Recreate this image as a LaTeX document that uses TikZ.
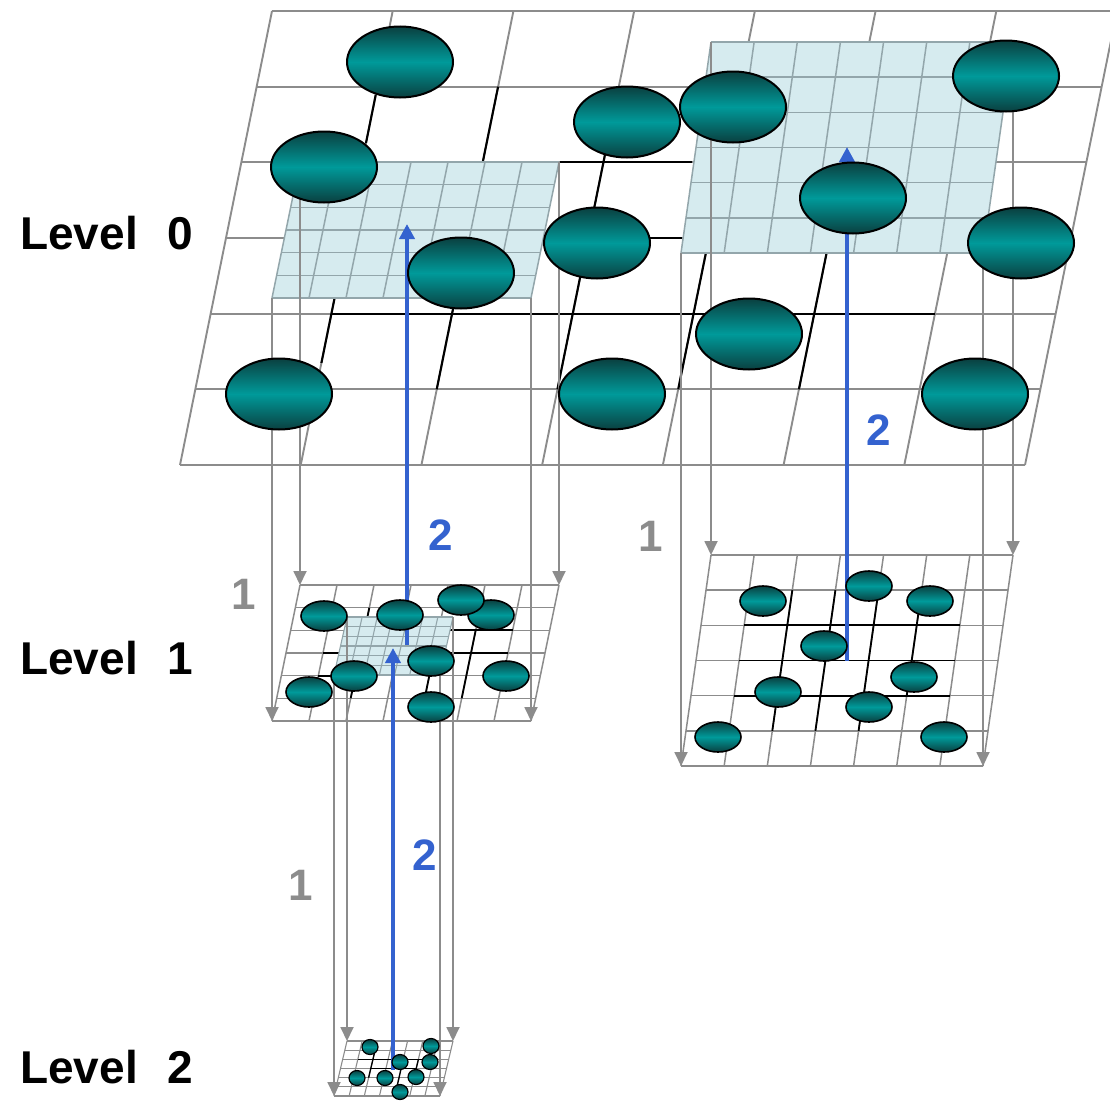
\documentclass[tikz,border=0pt]{standalone}
\usepackage{fontspec}
\setmainfont{Liberation Sans}
\usetikzlibrary{shapes.geometric,arrows.meta}

\definecolor{gridgray}{HTML}{8C8C8C}
\definecolor{finegray}{HTML}{93A6AB}
\definecolor{regionfill}{HTML}{D6EBEF}
\definecolor{tealmid}{HTML}{009A9A}
\definecolor{tealdark}{HTML}{0A4040}
\definecolor{linkblue}{HTML}{3462CF}
\definecolor{labelgray}{HTML}{8C8C8C}

% skewed grid: top-left x, top-left y, width, height, bottom shift, columns, rows, line style
\newcommand{\skewgrid}[8]{%
  \foreach \gi in {0,...,#7}{\draw[#8] ({#1+(#5)*\gi/#7},{#2+(#4)*\gi/#7}) -- ++(#3,0);}
  \foreach \gj in {0,...,#6}{\draw[#8] ({#1+(#3)*\gj/#6},#2) -- ++(#5,#4);}
}
% filled parallelogram: top-left x, top-left y, width, height, bottom shift
\newcommand{\skewpatch}[5]{%
  \fill[regionfill] (#1,#2) -- ++(#3,0) -- ++(#5,#4) -- ++(-#3,0) -- cycle;
}

\begin{document}
\begin{tikzpicture}[x=1pt,y=-1pt,
  gridln/.style={draw=gridgray, line width=1.9pt},
  gridsm/.style={draw=gridgray, line width=1.5pt},
  gridxs/.style={draw=gridgray, line width=1.1pt},
  fineln/.style={draw=finegray, line width=1.5pt},
  finesm/.style={draw=finegray, line width=1.1pt},
  treeln/.style={draw=black, line width=2.1pt},
  treesm/.style={draw=black, line width=1.8pt},
  treexs/.style={draw=black, line width=1.3pt},
  drop/.style={draw=gridgray, line width=1.8pt, -{Triangle[width=13pt,length=14pt]}},
  lift/.style={draw=linkblue, line width=4pt, -{Triangle[width=15pt,length=15pt]}},
  ballL/.style={ellipse, draw=black, line width=2pt, inner sep=0pt,
    minimum width=106pt, minimum height=71pt,
    top color=tealdark, bottom color=tealdark, middle color=tealmid},
  ballM/.style={ballL, line width=1.6pt, minimum width=46pt, minimum height=30pt},
  ballS/.style={ballL, line width=1.2pt, minimum width=16pt, minimum height=15pt},
  lvl/.style={font=\fontsize{46}{55}\selectfont\bfseries, anchor=base west, inner sep=0pt},
  stepnum/.style={font=\fontsize{44}{52}\selectfont\bfseries, inner sep=0pt},
  countA/.style={stepnum, text=labelgray},
  countB/.style={stepnum, text=linkblue}]

\useasboundingbox (0,0) rectangle (1110,1100);
\clip (0,0) rectangle (1110,1100);

% ---------- level 0 ----------
\skewgrid{272}{11}{845}{454}{-92}{7}{6}{gridln}
\draw[treeln] (375.7,95) -- (366.0,143);
\draw[treeln] (334.6,298) -- (321.4,363);
\draw[treeln] (498.1,86.7) -- (482.7,162.3);
\draw[treeln] (453.2,308) -- (436.7,389.3);
\draw[treeln] (604.9,155) -- (557.4,389.3);
\draw[treeln] (705.9,253) -- (678.2,389.3);
\draw[treeln] (826.6,253) -- (798.9,389.3);
\draw[treeln] (560,162.3) -- (692,162.3);
\draw[treeln] (650,238) -- (682,238);
\draw[treeln] (331.4,313.7) -- (935,313.7);

\skewpatch{300}{162}{259}{136}{-28}
\skewgrid{300}{162}{259}{136}{-28}{7}{6}{fineln}
\skewpatch{711}{42}{302}{211}{-30}
\skewgrid{711}{42}{302}{211}{-30}{7}{6}{fineln}

% ---------- level 1, left ----------
\skewgrid{300}{585}{259}{136}{-28}{7}{6}{gridsm}
\draw[treesm] (323,653) -- (508,653);
\draw[treesm] (364.7,630.3) -- (512.7,630.3);
\draw[treesm] (318.3,675.7) -- (355.3,675.7);
\draw[treesm] (475.7,630.3) -- (461.7,698.3);
\draw[treesm] (429.3,675.7) -- (424.7,698.3);
\draw[treesm] (369.3,607.7) -- (364.7,630.3);
\draw[treesm] (355.3,675.7) -- (350.7,698.3);
\skewpatch{347}{617}{106}{58}{-13}
\skewgrid{347}{617}{106}{58}{-13}{7}{6}{finesm}

% ---------- level 1, right ----------
\skewgrid{711}{555}{302}{211}{-30}{7}{6}{gridsm}
\draw[treesm] (744.1,625.3) -- (959.9,625.3);
\draw[treesm] (739.1,660.5) -- (954.9,660.5);
\draw[treesm] (734.1,695.7) -- (949.9,695.7);
\draw[treesm] (792.3,590.2) -- (772.3,730.8);
\draw[treesm] (835.4,590.2) -- (815.4,730.8);
\draw[treesm] (878.6,590.2) -- (858.6,730.8);
\draw[treesm] (921.7,590.2) -- (906.7,695.7);

% ---------- level 2 ----------
\skewgrid{347}{1041}{106}{55}{-13}{7}{6}{gridxs}
\draw[treexs] (357.8,1059.3) -- (433.5,1059.3);
\draw[treexs] (370.8,1068.5) -- (416.2,1068.5);
\draw[treexs] (375.1,1050.2) -- (368.6,1077.7);
\draw[treexs] (403.2,1059.3) -- (394.9,1096);
\draw[treexs] (418.4,1059.3) -- (414.0,1077.7);

% ---------- corner points of the patches and grids ----------
\coordinate (pa-tl) at (300,162);  \coordinate (pa-tr) at (559,162);
\coordinate (pa-bl) at (272,298);  \coordinate (pa-br) at (531,298);
\coordinate (ga-tl) at (300,585);  \coordinate (ga-tr) at (559,585);
\coordinate (ga-bl) at (272,721);  \coordinate (ga-br) at (531,721);
\coordinate (pb-tl) at (711,42);   \coordinate (pb-tr) at (1013,42);
\coordinate (pb-bl) at (681,253);  \coordinate (pb-br) at (983,253);
\coordinate (gb-tl) at (711,555);  \coordinate (gb-tr) at (1013,555);
\coordinate (gb-bl) at (681,766);  \coordinate (gb-br) at (983,766);
\coordinate (pc-tl) at (347,617);  \coordinate (pc-tr) at (453,617);
\coordinate (pc-bl) at (334,675);  \coordinate (pc-br) at (440,675);
\coordinate (gc-tl) at (347,1041); \coordinate (gc-tr) at (453,1041);
\coordinate (gc-bl) at (334,1096); \coordinate (gc-br) at (440,1096);

% projection drops
\foreach \k in {tl,tr,bl,br}{
  \draw[drop] (pa-\k) -- (ga-\k);
  \draw[drop] (pb-\k) -- (gb-\k);
  \draw[drop] (pc-\k) -- (gc-\k);
}

% lifts
\coordinate (la-s) at (407,645);  \coordinate (la-e) at (407,224);
\coordinate (lb-s) at (393,1070); \coordinate (lb-e) at (393,648);
\coordinate (lc-s) at (847,661);  \coordinate (lc-e) at (847,147);
\draw[lift] (la-s) -- (la-e);
\draw[lift] (lb-s) -- (lb-e);
\draw[lift] (lc-s) -- (lc-e);

% ---------- particles, level 0 ----------
\node[ballL] (z1)  at (400,62)  {};
\node[ballL] (z2)  at (324,167) {};
\node[ballL] (z3)  at (461,273) {};
\node[ballL] (z4)  at (279,394) {};
\node[ballL] (z5)  at (627,122) {};
\node[ballL] (z6)  at (597,243) {};
\node[ballL] (z7)  at (612,394) {};
\node[ballL] (z8)  at (733,107) {};
\node[ballL] (z9)  at (1006,76) {};
\node[ballL] (z10) at (853,198) {};
\node[ballL] (z11) at (1021,243) {};
\node[ballL] (z12) at (749,334) {};
\node[ballL] (z13) at (975,394) {};

% ---------- particles, level 1 left ----------
\node[ballM] (a1) at (324,616) {};
\node[ballM] (a2) at (400,615) {};
\node[ballM] (a4) at (491,615) {};
\node[ballM] (a3) at (461,600) {};
\node[ballM] (a5) at (431,661) {};
\node[ballM] (a6) at (354,676) {};
\node[ballM] (a7) at (309,692) {};
\node[ballM] (a8) at (506,676) {};
\node[ballM] (a9) at (431,707) {};

% ---------- particles, level 1 right ----------
\node[ballM] (b1) at (763,601) {};
\node[ballM] (b2) at (869,586) {};
\node[ballM] (b3) at (930,601) {};
\node[ballM] (b4) at (824,646) {};
\node[ballM] (b5) at (778,692) {};
\node[ballM] (b6) at (914,677) {};
\node[ballM] (b7) at (869,707) {};
\node[ballM] (b8) at (718,737) {};
\node[ballM] (b9) at (944,737) {};

% ---------- particles, level 2 ----------
\node[ballS] (c1) at (370,1047) {};
\node[ballS] (c2) at (431,1046) {};
\node[ballS] (c3) at (400,1062) {};
\node[ballS] (c4) at (430,1062) {};
\node[ballS] (c5) at (357,1078) {};
\node[ballS] (c6) at (385,1078) {};
\node[ballS] (c7) at (416,1077) {};
\node[ballS] (c8) at (400,1092) {};

% ---------- labels ----------
\node[lvl] (lv0) at (20,249)  {Level~~\hspace{4pt}0};
\node[lvl] (lv1) at (20,674)  {Level~~\hspace{4pt}1};
\node[lvl] (lv2) at (20,1083) {Level~~\hspace{4pt}2};

\node[countA] (na) at (244,594) {1};
\node[countA] (nb) at (651,536) {1};
\node[countA] (nc) at (301,885) {1};
\node[countB] (nd) at (441,535) {2};
\node[countB] (ne) at (425,855) {2};
\node[countB] (nf) at (879,430) {2};
\end{tikzpicture}
\end{document}
